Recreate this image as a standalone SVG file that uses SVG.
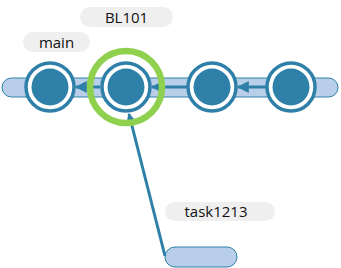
<svg xmlns="http://www.w3.org/2000/svg" width="341" height="268" viewBox="0 0 341 268">
<style>
.bar{fill:#b9cfe9;stroke:#2e80a8;stroke-width:1}
.ring{fill:none;stroke:#2e80a8;stroke-width:3.5}
.ringbg{fill:#ffffff}
.core{fill:#2e80a8}
.pill{fill:#efefef}
.lbl{font-family:"Open Sans","Liberation Sans",sans-serif;font-size:15px;fill:#111111;text-anchor:middle}
.conn{stroke:#2e80a8;stroke-width:3;fill:none}
</style>
<defs>
<marker id="ah" viewBox="0 0 10 10" refX="9" refY="5" markerWidth="4" markerHeight="4" orient="auto" markerUnits="strokeWidth">
<path d="M0,0 L10,5 L0,10 z" fill="#2e80a8"/>
</marker>
</defs>
<g id="main-bar"><rect class="bar" x="2" y="78" width="336" height="19" rx="9.5"/></g>
<g id="task-bar"><rect class="bar" x="165" y="247" width="72" height="20" rx="10"/></g>
<g id="connectors">
<line class="conn" x1="266" y1="87" x2="238" y2="87" marker-end="url(#ah)"/>
<line class="conn" x1="187" y1="87" x2="152" y2="87" marker-end="url(#ah)"/>
<line class="conn" x1="100" y1="87" x2="76" y2="87" marker-end="url(#ah)"/>
<line class="conn" x1="165" y1="256" x2="129" y2="114" marker-end="url(#ah)"/>
</g>
<g id="c1"><circle class="ringbg" cx="50" cy="87" r="24"/><circle class="ring" cx="50" cy="87" r="24"/><circle class="core" cx="50" cy="87" r="18.5"/></g>
<g id="c2"><circle class="ringbg" cx="126" cy="87" r="24"/><circle class="ring" cx="126" cy="87" r="24"/><circle class="core" cx="126" cy="87" r="18.5"/><circle cx="126" cy="87" r="36" fill="none" stroke="#8fd14f" stroke-width="6.5"/></g>
<g id="c3"><circle class="ringbg" cx="212" cy="87" r="24"/><circle class="ring" cx="212" cy="87" r="24"/><circle class="core" cx="212" cy="87" r="18.5"/></g>
<g id="c4"><circle class="ringbg" cx="291" cy="87" r="24"/><circle class="ring" cx="291" cy="87" r="24"/><circle class="core" cx="291" cy="87" r="18.5"/></g>
<g id="label-main"><rect class="pill" x="23" y="32" width="67" height="20" rx="10"/><text class="lbl" x="56.5" y="47.5">main</text></g>
<g id="label-bl101"><rect class="pill" x="80" y="7" width="93" height="20" rx="10"/><text class="lbl" x="126.5" y="22.5">BL101</text></g>
<g id="label-task"><rect class="pill" x="165" y="202" width="110" height="19" rx="9.5"/><text class="lbl" x="216" y="217">task1213</text></g>
</svg>
